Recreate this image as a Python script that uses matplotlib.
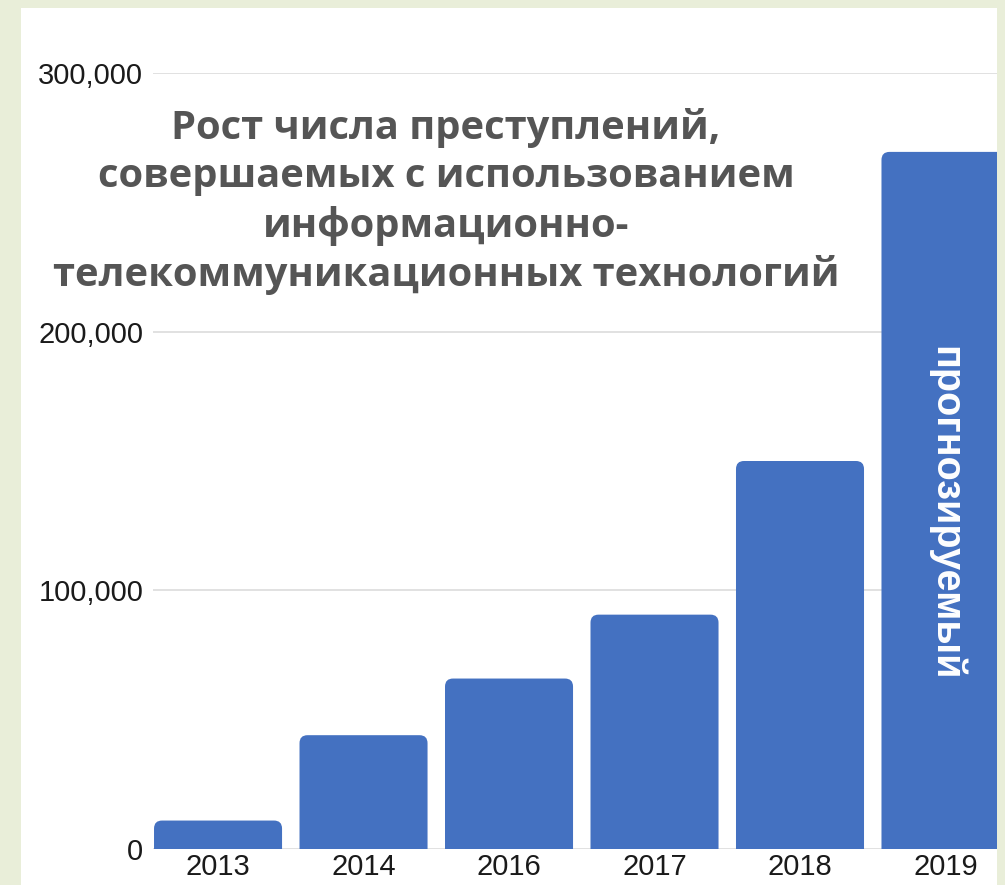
import matplotlib
matplotlib.use("Agg")
import matplotlib.pyplot as plt
from matplotlib.patches import Rectangle, FancyBboxPatch
from matplotlib.ticker import FuncFormatter

years = ["2013", "2014", "2016", "2017", "2018", "2019"]
values = [11000, 44000, 65900, 90600, 150000, 269500]
yticks = [0, 100000, 200000, 300000]
title_lines = ["Рост числа преступлений,",
               "совершаемых с использованием",
               "информационно-",
               "телекоммуникационных технологий"]
forecast_label = "прогнозируемый"

W, H = 1005, 885
fig = plt.figure(figsize=(W / 100, H / 100), dpi=100, facecolor="#E9EED9")
fig.patches.append(Rectangle((21 / W, 0), (997 - 21) / W, (H - 8) / H,
                             transform=fig.transFigure, facecolor="white",
                             edgecolor="none", zorder=-10))

left, right, bottom, top = 153, 997, 849, 73
ax = fig.add_axes([left / W, (H - bottom) / H, (right - left) / W, (bottom - top) / H])
ax.set_facecolor("none")

x = list(range(len(years)))
ax.set_xlim(-0.447, 5.354)
ax.set_ylim(0, 300000)

bars = ax.bar(x, values, width=0.88, color="#4471C1", zorder=2)
# rounded tops: replace rectangles with rounded boxes of the same geometry
ax_w_px = right - left
ax_h_px = bottom - top
xu_per_px = (5.354 + 0.447) / ax_w_px
yu_per_px = 300000 / ax_h_px
aspect = yu_per_px / xu_per_px
r = 8 * xu_per_px
for b in bars:
    bx, by, bw, bh = b.get_x(), b.get_y(), b.get_width(), b.get_height()
    b.set_visible(False)
    ext = 10 * yu_per_px
    p = FancyBboxPatch((bx, by - ext), bw, bh + ext,
                       boxstyle=f"round,pad=0,rounding_size={r}",
                       mutation_aspect=aspect, facecolor="#4471C1",
                       edgecolor="none", zorder=2, clip_on=True)
    ax.add_patch(p)

ax.set_yticks(yticks)
ax.yaxis.set_major_formatter(FuncFormatter(lambda v, p: f"{int(v):,}"))
ax.set_xticks(x)
ax.set_xticklabels(years)
for s in ax.spines.values():
    s.set_visible(False)
ax.grid(axis="y", color="#DCDCDC", linewidth=1.2, zorder=1)
ax.set_axisbelow(True)
ax.tick_params(axis="both", length=0, labelsize=21, labelcolor="#1A1A1A")
ax.tick_params(axis="y", pad=7)
ax.tick_params(axis="x", pad=3)
for lab in ax.get_xticklabels() + ax.get_yticklabels():
    lab.set_family("Liberation Sans")

fig.text(446 / W, (H - 201.5) / H, "\n".join(title_lines), ha="center", va="center",
         fontsize=28.7, fontweight="bold", color="#555555", family="Open Sans",
         linespacing=1.30)

ax.text(5, 129700, forecast_label, rotation=-90, ha="center", va="center",
        color="white", fontsize=28.5, fontweight="bold", family="Liberation Sans",
        zorder=3)

fig.savefig("out.png", dpi=100, facecolor=fig.get_facecolor())
